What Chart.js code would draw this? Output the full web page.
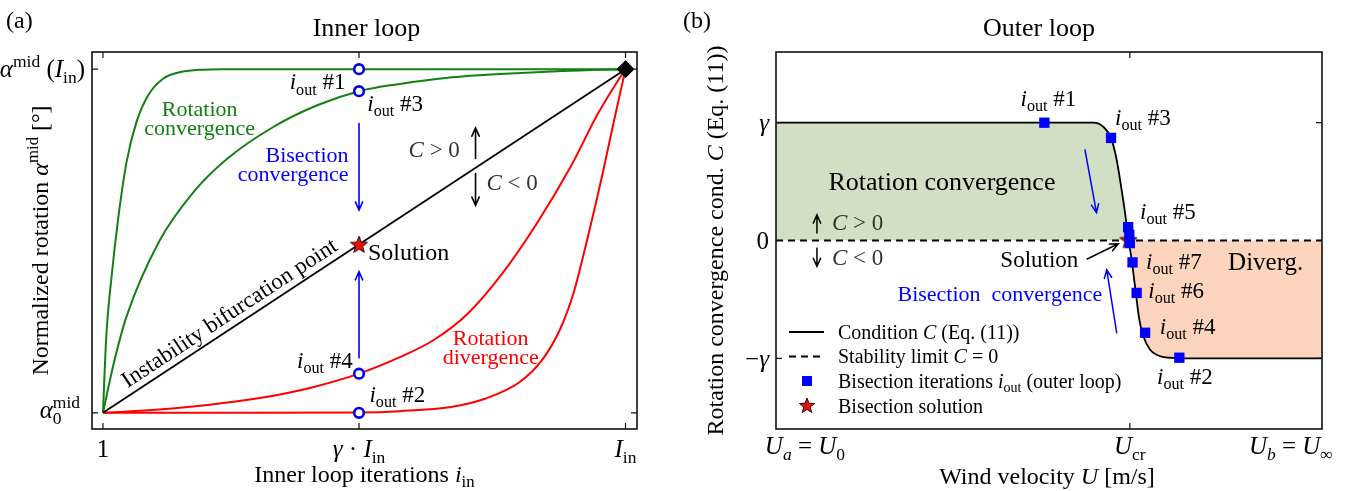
<!DOCTYPE html>
<html>
<head>
<meta charset="utf-8">
<script src="https://cdn.jsdelivr.net/npm/chart.js@4.4.1/dist/chart.umd.min.js"></script>
<style>
  html, body { margin: 0; padding: 0; background: #fff; }
  #wrap { position: relative; width: 1354px; height: 491px; }
  .panel { position: absolute; top: 0; width: 677px; height: 491px; }
</style>
</head>
<body>
<div id="wrap">
  <div class="panel" style="left:0"><canvas id="inner"></canvas></div>
  <div class="panel" style="left:677px"><canvas id="outer"></canvas></div>
</div>
<script>
// (a) Inner loop: x = normalised inner iteration (1 -> 0, I_in -> 1), y = normalised rotation
var GAMMA = 0.49;
var GREEN_FAST = [[0,0],[0.0064,0.225],[0.016,0.39],[0.029,0.564],[0.045,0.729],[0.064,0.846],[0.086,0.923],[0.115,0.972],[0.147,0.991],[0.185,0.998],[0.23,1],[0.3,1],[1,1]];
var GREEN_SLOW = [[0,0],[0.02,0.14],[0.045,0.28],[0.108,0.5],[0.172,0.64],[0.236,0.737],[0.325,0.831],[0.41,0.895],[0.49,0.936],[0.568,0.957],[0.66,0.975],[0.76,0.986],[0.88,0.995],[1,1]];
var RED_SLOW = [[0,0],[0.1,0.009],[0.2,0.023],[0.3,0.043],[0.4,0.074],[0.49,0.114],[0.568,0.162],[0.633,0.212],[0.699,0.29],[0.764,0.405],[0.829,0.548],[0.895,0.716],[0.947,0.87],[0.986,0.968],[1,1]];
var RED_FAST = [[0,0],[0.3,0],[0.49,0.001],[0.568,0.005],[0.666,0.017],[0.731,0.041],[0.797,0.089],[0.842,0.157],[0.875,0.244],[0.901,0.351],[0.927,0.506],[0.954,0.681],[0.976,0.836],[1,1]];
var BIFURCATION = [[0,0],[1,1]];
var INNER_ITERS = [[GAMMA,1],[GAMMA,0.936],[GAMMA,0.114],[GAMMA,0]];
var INNER_SOLUTION = [[GAMMA,0.488]];
var INNER_END = [[1,1]];
var INNER_X_TICKS = [0, GAMMA, 1];
var INNER_X_LABELS = [
  [['1','']],
  [['γ','i'],[' · ',''],['I','i'],['in','b']],
  [['I','i'],['in','b']]
];
var INNER_Y_TICKS = [0, 1];
var INNER_Y_LABELS = [
  [['α','i'],['0','bk'],['mid','p']],
  [['α','i'],['mid','p'],[' (',''],['I','i'],['in','b'],[')','']]
];

// (b) Outer loop: x = normalised wind velocity, y = condition C in units of gamma
var COND_C = [[0,1],[0.581,1],[0.5995,0.965],[0.6136,0.871],[0.624,0.683],[0.633,0.429],[0.641,0.175],[0.645,0.006],[0.6496,-0.107],[0.6545,-0.276],[0.659,-0.445],[0.6654,-0.671],[0.6728,-0.812],[0.685,-0.925],[0.703,-0.981],[0.734,-0.998],[0.76,-1],[1,-1]];
var STABILITY = [[0,0],[1,0]];
var OUTER_ITERS = [[0.4915,1],[0.6136,0.871],[0.645,0.113],[0.647,0.048],[0.648,-0.022],[0.653,-0.186],[0.6605,-0.445],[0.676,-0.783],[0.7387,-0.995]];
var OUTER_SOLUTION = [[0.6455,0]];
var OUTER_X_TICKS = [0.053, 0.648, 0.943];
var OUTER_X_MARKS = [0.648];
var OUTER_X_LABELS = [
  [['U','i'],['a','bi'],[' = ',''],['U','i'],['0','b']],
  [['U','i'],['cr','b']],
  [['U','i'],['b','bi'],[' = ',''],['U','i'],['∞','b']]
];
var OUTER_Y_TICKS = [-1, 0, 1];
var OUTER_Y_LABELS = [[['−',''],['γ','i']], [['0','']], [['γ','i']]];

var GREEN = '#128012', RED = '#ff0000', BLUE = '#0000ff', BLACK = '#000';
var FILL_GREEN = '#d1e0c5', FILL_ORANGE = '#fdd5be';
var FONT = '"Liberation Serif", "Times New Roman", serif';

var IOUT = function(n) { return [['i','i'],['out','b'],[' #' + n,'']]; };
var CGT = [['C','i'],[' > 0','']];
var CLT = [['C','i'],[' < 0','']];

var INNER_NOTES = [
  { t: [['Rotation','']], x: 0.185, y: 0.884, c: GREEN, s: 22, a: 'center' },
  { t: [['convergence','']], x: 0.185, y: 0.829, c: GREEN, s: 22, a: 'center' },
  { t: [['Bisection','']], x: 0.47, y: 0.752, c: BLUE, s: 22, a: 'right' },
  { t: [['convergence','']], x: 0.47, y: 0.697, c: BLUE, s: 22, a: 'right' },
  { t: CGT, x: 0.683, y: 0.767, c: '#333', s: 23, a: 'right' },
  { t: CLT, x: 0.734, y: 0.67, c: '#333', s: 23, a: 'left' },
  { t: [['Solution','']], x: 0.507, y: 0.469, c: BLACK, s: 24, a: 'left' },
  { t: IOUT(1), x: 0.464, y: 0.963, c: BLACK, s: 23, a: 'right' },
  { t: IOUT(3), x: 0.506, y: 0.9, c: BLACK, s: 23, a: 'left' },
  { t: IOUT(4), x: 0.478, y: 0.152, c: BLACK, s: 23, a: 'right' },
  { t: IOUT(2), x: 0.51, y: 0.053, c: BLACK, s: 23, a: 'left' },
  { t: [['Rotation','']], x: 0.742, y: 0.218, c: RED, s: 22, a: 'center' },
  { t: [['divergence','']], x: 0.742, y: 0.163, c: RED, s: 22, a: 'center' }
];
var INNER_ARROWS = [
  [GAMMA, 0.842, GAMMA, 0.59, BLUE],
  [GAMMA, 0.16, GAMMA, 0.411, BLUE],
  [0.713, 0.74, 0.713, 0.829, BLACK],
  [0.713, 0.696, 0.713, 0.604, BLACK]
];
var DIAG_LABEL = [['Instability bifurcation point','']];

var OUTER_NOTES = [
  { t: [['Rotation convergence','']], x: 0.304, y: 0.5, c: BLACK, s: 26, a: 'center' },
  { t: [['Diverg.','']], x: 0.828, y: -0.178, c: BLACK, s: 25, a: 'left' },
  { t: [['Bisection  convergence','']], x: 0.2225, y: -0.451, c: BLUE, s: 22, a: 'left' },
  { t: [['Solution','']], x: 0.5537, y: -0.157, c: BLACK, s: 23, a: 'right' },
  { t: IOUT(1), x: 0.448, y: 1.205, c: BLACK, s: 23, a: 'left' },
  { t: IOUT(3), x: 0.621, y: 1.049, c: BLACK, s: 23, a: 'left' },
  { t: IOUT(5), x: 0.6667, y: 0.245, c: BLACK, s: 23, a: 'left' },
  { t: IOUT(7), x: 0.6777, y: -0.178, c: BLACK, s: 23, a: 'left' },
  { t: IOUT(6), x: 0.682, y: -0.423, c: BLACK, s: 23, a: 'left' },
  { t: IOUT(4), x: 0.703, y: -0.728, c: BLACK, s: 23, a: 'left' },
  { t: IOUT(2), x: 0.698, y: -1.15, c: BLACK, s: 23, a: 'left' },
  { t: CGT, x: 0.1026, y: 0.152, c: '#333', s: 23, a: 'left' },
  { t: CLT, x: 0.1026, y: -0.146, c: '#333', s: 23, a: 'left' }
];
var OUTER_ARROWS = [
  [0.566, 0.768, 0.587, 0.237, BLUE],
  [0.624, -0.784, 0.6057, -0.248, BLUE],
  [0.570, -0.157, 0.627, -0.028, BLACK],
  [0.075, 0.063, 0.075, 0.217, BLACK],
  [0.075, -0.064, 0.075, -0.22, BLACK]
];
var LEGEND_LABELS = [
  [['Condition ',''],['C','i'],[' (Eq. (11))','']],
  [['Stability limit ',''],['C','i'],[' = 0','']],
  [['Bisection iterations ',''],['i','i'],['out','b'],[' (outer loop)','']],
  [['Bisection solution','']]
];

function fontStr(size, italic) { return (italic ? 'italic ' : '') + size + 'px ' + FONT; }

// segment flags: i italic, b subscript, p superscript, k keep pen position (stacked sub/sup)
function layout(ctx, segs, size) {
  var parts = [], x = 0, width = 0;
  segs.forEach(function(s) {
    var f = s[1] || '';
    var small = f.indexOf('b') >= 0 || f.indexOf('p') >= 0;
    var sz = small ? size * 0.7 : size;
    ctx.font = fontStr(sz, f.indexOf('i') >= 0);
    var w = ctx.measureText(s[0]).width;
    var dy = f.indexOf('b') >= 0 ? size * 0.22 : (f.indexOf('p') >= 0 ? -size * 0.4 : 0);
    parts.push({ t: s[0], x: x, dy: dy, font: ctx.font });
    width = Math.max(width, x + w);
    if (f.indexOf('k') < 0) x += w;
  });
  return { parts: parts, width: width };
}

function drawRich(ctx, segs, x, y, size, color, align, angle) {
  var L = layout(ctx, segs, size);
  var x0 = align === 'center' ? -L.width / 2 : (align === 'right' ? -L.width : 0);
  ctx.save();
  ctx.translate(x, y);
  if (angle) ctx.rotate(angle);
  ctx.fillStyle = color;
  ctx.textAlign = 'left';
  ctx.textBaseline = 'alphabetic';
  var base = size * 0.33;
  L.parts.forEach(function(p) {
    ctx.font = p.font;
    ctx.fillText(p.t, x0 + p.x, base + p.dy);
  });
  ctx.restore();
}

function arrow(ctx, x1, y1, x2, y2, color, lw) {
  var a = Math.atan2(y2 - y1, x2 - x1), h = 9, sp = 0.42;
  ctx.save();
  ctx.strokeStyle = color;
  ctx.lineWidth = lw;
  ctx.lineCap = 'round';
  ctx.beginPath();
  ctx.moveTo(x1, y1); ctx.lineTo(x2, y2);
  ctx.moveTo(x2 - h * Math.cos(a - sp), y2 - h * Math.sin(a - sp));
  ctx.lineTo(x2, y2);
  ctx.lineTo(x2 - h * Math.cos(a + sp), y2 - h * Math.sin(a + sp));
  ctx.stroke();
  ctx.restore();
}

function makeStar(R) {
  var c = document.createElement('canvas');
  c.width = c.height = Math.ceil(2 * R + 4);
  var g = c.getContext('2d'), m = c.width / 2;
  g.beginPath();
  for (var i = 0; i < 10; i++) {
    var r = i % 2 ? R * 0.42 : R;
    var a = -Math.PI / 2 + i * Math.PI / 5;
    g.lineTo(m + r * Math.cos(a), m + r * Math.sin(a));
  }
  g.closePath();
  g.fillStyle = '#e3120b';
  g.fill();
  g.strokeStyle = '#3a0000';
  g.lineWidth = 1;
  g.stroke();
  return c;
}

function pts(a) { return a.map(function(p) { return { x: p[0], y: p[1] }; }); }
function curve(data, color, w, order) {
  return { type: 'line', data: pts(data), borderColor: color, borderWidth: w, pointRadius: 0,
           cubicInterpolationMode: 'monotone', fill: false, order: order };
}

function frameAndTicks(chart, xMarks, yMarks) {
  var ctx = chart.ctx, a = chart.chartArea, xs = chart.scales.x, ys = chart.scales.y;
  ctx.save();
  ctx.strokeStyle = '#111';
  ctx.lineWidth = 1.6;
  ctx.strokeRect(a.left, a.top, a.right - a.left, a.bottom - a.top);
  ctx.lineWidth = 1.2;
  ctx.beginPath();
  xMarks.forEach(function(v) {
    var p = xs.getPixelForValue(v);
    ctx.moveTo(p, a.bottom); ctx.lineTo(p, a.bottom - 6);
    ctx.moveTo(p, a.top); ctx.lineTo(p, a.top + 6);
  });
  yMarks.forEach(function(v) {
    var p = ys.getPixelForValue(v);
    ctx.moveTo(a.left, p); ctx.lineTo(a.left + 6, p);
    ctx.moveTo(a.right, p); ctx.lineTo(a.right - 6, p);
  });
  ctx.stroke();
  ctx.restore();
}

var STAR_BIG = makeStar(9);
var STAR_LEG = makeStar(8);

var innerPlugin = {
  id: 'innerDecor',
  afterDatasetsDraw: function(chart) {
    var ctx = chart.ctx, xs = chart.scales.x, ys = chart.scales.y;
    var X = function(v) { return xs.getPixelForValue(v); };
    var Y = function(v) { return ys.getPixelForValue(v); };
    INNER_ARROWS.forEach(function(r) { arrow(ctx, X(r[0]), Y(r[1]), X(r[2]), Y(r[3]), r[4], 1.6); });
    INNER_NOTES.forEach(function(n) { drawRich(ctx, n.t, X(n.x), Y(n.y), n.s, n.c, n.a); });
    var x0 = X(BIFURCATION[0][0]), y0 = Y(BIFURCATION[0][1]);
    var x1 = X(BIFURCATION[1][0]), y1 = Y(BIFURCATION[1][1]);
    var ang = Math.atan2(y1 - y0, x1 - x0), along = 34, off = 7 + 23 * 0.33;
    drawRich(ctx, DIAG_LABEL,
      x0 + along * Math.cos(ang) + off * Math.sin(ang),
      y0 + along * Math.sin(ang) - off * Math.cos(ang), 23, BLACK, 'left', ang);
  },
  afterDraw: function(chart) {
    var ctx = chart.ctx, a = chart.chartArea, xs = chart.scales.x, ys = chart.scales.y;
    frameAndTicks(chart, INNER_X_TICKS, INNER_Y_TICKS);
    INNER_X_TICKS.forEach(function(v, i) { drawRich(ctx, INNER_X_LABELS[i], xs.getPixelForValue(v), 449, 25, BLACK, 'center'); });
    drawRich(ctx, INNER_Y_LABELS[0], a.left - 12, ys.getPixelForValue(INNER_Y_TICKS[0]) - 3, 25, BLACK, 'right');
    drawRich(ctx, INNER_Y_LABELS[1], a.left - 7, ys.getPixelForValue(INNER_Y_TICKS[1]), 25, BLACK, 'right');
    drawRich(ctx, [['Inner loop','']], (a.left + a.right) / 2 + 2, 27, 26, BLACK, 'center');
    drawRich(ctx, [['(a)','']], 6, 20, 24, BLACK, 'left');
    drawRich(ctx, [['Inner loop iterations ',''],['i','i'],['in','b']], (a.left + a.right) / 2, 474, 24, BLACK, 'center');
    drawRich(ctx, [['Normalized rotation ',''],['α','i'],['mid','p'],[' [°]','']], 40, (a.top + a.bottom) / 2, 24, BLACK, 'center', -Math.PI / 2);
  }
};

var outerPlugin = {
  id: 'outerDecor',
  afterDatasetsDraw: function(chart) {
    var ctx = chart.ctx, a = chart.chartArea, xs = chart.scales.x, ys = chart.scales.y;
    var X = function(v) { return xs.getPixelForValue(v); };
    var Y = function(v) { return ys.getPixelForValue(v); };
    OUTER_ARROWS.forEach(function(r) { arrow(ctx, X(r[0]), Y(r[1]), X(r[2]), Y(r[3]), r[4], 1.5); });
    OUTER_NOTES.forEach(function(n) { drawRich(ctx, n.t, X(n.x), Y(n.y), n.s, n.c, n.a); });

    // legend, lower left inside the axes
    var lx = a.left + 13, tx = a.left + 62, rows = [a.top + 280, a.top + 304.5, a.top + 329, a.top + 354];
    ctx.save();
    ctx.strokeStyle = BLACK;
    ctx.lineWidth = 1.8;
    ctx.beginPath(); ctx.moveTo(lx, rows[0]); ctx.lineTo(lx + 35, rows[0]); ctx.stroke();
    ctx.setLineDash([7, 5]);
    ctx.beginPath(); ctx.moveTo(lx, rows[1]); ctx.lineTo(lx + 35, rows[1]); ctx.stroke();
    ctx.setLineDash([]);
    ctx.fillStyle = BLUE;
    ctx.fillRect(lx + 13, rows[2] - 5, 10, 10);
    ctx.drawImage(STAR_LEG, lx + 18 - STAR_LEG.width / 2, rows[3] - STAR_LEG.height / 2);
    ctx.restore();
    LEGEND_LABELS.forEach(function(l, i) { drawRich(ctx, l, tx, rows[i], 20, BLACK, 'left'); });
  },
  afterDraw: function(chart) {
    var ctx = chart.ctx, a = chart.chartArea, xs = chart.scales.x, ys = chart.scales.y;
    frameAndTicks(chart, OUTER_X_MARKS, OUTER_Y_TICKS);
    OUTER_X_TICKS.forEach(function(v, i) { drawRich(ctx, OUTER_X_LABELS[i], xs.getPixelForValue(v), 446, 25, BLACK, 'center'); });
    OUTER_Y_TICKS.forEach(function(v, i) { drawRich(ctx, OUTER_Y_LABELS[i], a.left - 7, ys.getPixelForValue(v), 25, BLACK, 'right'); });
    drawRich(ctx, [['Outer loop','']], (a.left + a.right) / 2 - 10, 27, 26, BLACK, 'center');
    drawRich(ctx, [['(b)','']], 6, 20, 24, BLACK, 'left');
    drawRich(ctx, [['Wind velocity ',''],['U','i'],[' [m/s]','']], (a.left + a.right) / 2 - 2, 476, 24, BLACK, 'center');
    drawRich(ctx, [['Rotation convergence cond. ',''],['C','i'],[' (Eq. (11))','']], 38, (a.top + a.bottom) / 2, 24, BLACK, 'center', -Math.PI / 2);
  }
};

var common = {
  responsive: true,
  maintainAspectRatio: false,
  animation: false,
  events: [],
  plugins: { legend: { display: false }, tooltip: { enabled: false } }
};

new Chart(document.getElementById('inner'), {
  type: 'line',
  data: {
    datasets: [
      { type: 'scatter', data: pts(INNER_ITERS), pointStyle: 'circle', pointRadius: 4.8, pointBorderWidth: 2.6,
        pointBorderColor: '#0000e6', pointBackgroundColor: '#fff', order: 0 },
      { type: 'scatter', data: pts(INNER_SOLUTION), pointStyle: STAR_BIG, order: 1 },
      { type: 'scatter', data: pts(INNER_END), pointStyle: 'rectRot', pointRadius: 8.5,
        pointBackgroundColor: BLACK, pointBorderColor: BLACK, order: 1 },
      curve(BIFURCATION, BLACK, 1.8, 5),
      curve(GREEN_FAST, GREEN, 2, 6),
      curve(GREEN_SLOW, GREEN, 2, 6),
      curve(RED_SLOW, RED, 2, 6),
      curve(RED_FAST, RED, 2, 6)
    ]
  },
  options: Object.assign({}, common, {
    layout: { padding: { left: 92, right: 40, top: 52, bottom: 62 } },
    scales: {
      x: { type: 'linear', display: false, min: -0.021, max: 1.022 },
      y: { type: 'linear', display: false, min: -0.047, max: 1.05 }
    }
  }),
  plugins: [innerPlugin]
});

new Chart(document.getElementById('outer'), {
  type: 'line',
  data: {
    datasets: [
      { type: 'scatter', data: pts(OUTER_ITERS), pointStyle: 'rect', pointRadius: 7.3, pointBorderWidth: 0,
        pointBackgroundColor: BLUE, pointBorderColor: BLUE, order: 0 },
      { type: 'scatter', data: pts(OUTER_SOLUTION), pointStyle: STAR_BIG, order: 1 },
      { type: 'line', data: pts(STABILITY), borderColor: BLACK, borderWidth: 1.8, borderDash: [7, 5],
        pointRadius: 0, fill: false, order: 2 },
      { type: 'line', data: pts(COND_C), borderColor: BLACK, borderWidth: 1.8, pointRadius: 0,
        cubicInterpolationMode: 'monotone',
        fill: { target: { value: 0 }, above: FILL_GREEN, below: FILL_ORANGE }, order: 3 }
    ]
  },
  options: Object.assign({}, common, {
    layout: { padding: { left: 99, right: 32, top: 52, bottom: 62 } },
    scales: {
      x: { type: 'linear', display: false, min: 0, max: 1 },
      y: { type: 'linear', display: false, min: -1.6, max: 1.6 }
    }
  }),
  plugins: [outerPlugin]
});
</script>
</body>
</html>
